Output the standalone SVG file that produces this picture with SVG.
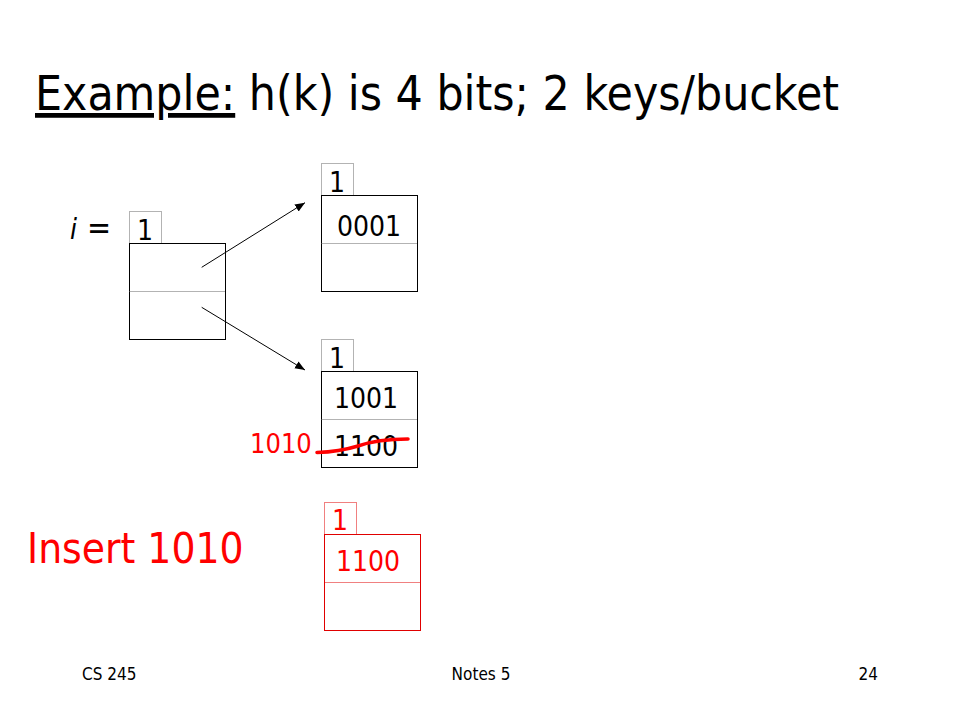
<svg xmlns="http://www.w3.org/2000/svg" width="960" height="720" viewBox="0 0 960 720">
<defs>
<style>
text{font-family:"DejaVu Sans Condensed","DejaVu Sans",Verdana,sans-serif;font-stretch:condensed;fill:#000}
.title{font-size:47.6px}
.key{font-size:28px}
.foot{font-size:17px}
.red{fill:#ff0000}
.box{fill:#fff;stroke:#000;stroke-width:1}
.boxr{fill:#fff;stroke:#e00000;stroke-width:1}
.lab{fill:#fff;stroke:#666;stroke-width:1;stroke-dasharray:1 1}
.labr{fill:#fff;stroke:#e00000;stroke-width:1;stroke-dasharray:1 1}
.div{stroke:#666;stroke-width:1;stroke-dasharray:1 1}
.divr{stroke:#e00000;stroke-width:1;stroke-dasharray:1 1}
.conn{stroke:#000;stroke-width:1;fill:none}
</style>
<marker id="ah" viewBox="0 0 10 10" refX="10" refY="5" markerWidth="10" markerHeight="10" markerUnits="userSpaceOnUse" orient="auto">
<path d="M0,1 L10,5 L0,9 Z" fill="#000"/>
</marker>
</defs>
<rect width="960" height="720" fill="#fff"/>

<g id="title">
<text class="title" x="35" y="110"><tspan text-decoration="underline">Example:</tspan> h(k) is 4 bits; 2 keys/bucket</text>
</g>

<g id="directory">
<text class="key" x="70" y="239"><tspan font-style="italic">i</tspan><tspan x="87" style="font-size:32px">=</tspan></text>
<rect class="lab" x="129.5" y="211.5" width="32" height="32"/>
<text class="key" x="145" y="240" text-anchor="middle">1</text>
<rect class="box" x="129.5" y="243.5" width="96" height="96"/>
<line class="div" x1="129.5" y1="291.5" x2="225.5" y2="291.5"/>
</g>

<g id="bucket1">
<rect class="lab" x="321.5" y="163.5" width="32" height="32"/>
<text class="key" x="337" y="192" text-anchor="middle">1</text>
<rect class="box" x="321.5" y="195.5" width="96" height="96"/>
<line class="div" x1="321.5" y1="243.5" x2="417.5" y2="243.5"/>
<text class="key" x="369" y="236" text-anchor="middle">0001</text>
</g>

<g id="bucket2">
<rect class="lab" x="321.5" y="339.5" width="32" height="32"/>
<text class="key" x="337" y="368" text-anchor="middle">1</text>
<rect class="box" x="321.5" y="371.5" width="96" height="96"/>
<line class="div" x1="321.5" y1="419.5" x2="417.5" y2="419.5"/>
<text class="key" x="366" y="408" text-anchor="middle">1001</text>
<text class="key" x="366" y="456" text-anchor="middle">1100</text>
</g>

<g id="strike">
<text class="key red" x="250" y="453" style="font-size:27px">1010</text>
<path d="M317,452.5 C333,452 345,450 358,446 C372,441 385,439 408,439" fill="none" stroke="#ff0000" stroke-width="3.5" stroke-linecap="round"/>
</g>

<g id="bucket3">
<rect class="labr" x="324.5" y="502.5" width="32" height="32"/>
<text class="key red" x="340" y="530" text-anchor="middle">1</text>
<rect class="boxr" x="324.5" y="534.5" width="96" height="96"/>
<line class="divr" x1="324.5" y1="582.5" x2="420.5" y2="582.5"/>
<text class="key red" x="368" y="571" text-anchor="middle">1100</text>
</g>

<g id="insert-label">
<text class="red" x="27" y="563" style="font-size:42px">Insert 1010</text>
</g>

<g id="connectors">
<line class="conn" x1="201.7" y1="267.3" x2="305" y2="202.7" marker-end="url(#ah)"/>
<line class="conn" x1="201.7" y1="307.3" x2="305" y2="370" marker-end="url(#ah)"/>
</g>

<g id="footer">
<text class="foot" x="82" y="680">CS 245</text>
<text class="foot" x="481" y="680" text-anchor="middle">Notes 5</text>
<text class="foot" x="878" y="680" text-anchor="end">24</text>
</g>
</svg>
